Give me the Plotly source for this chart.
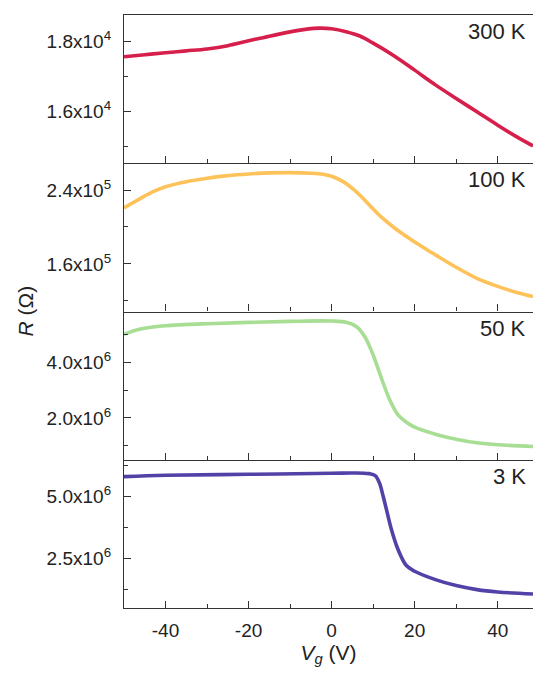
import plotly.graph_objects as go
from plotly.subplots import make_subplots

# ---- data ----
vg_300 = [-50, -45, -40, -35, -30, -25, -20, -15, -10, -6, -3, 0, 3.5, 6.8, 10, 15, 20, 25, 30, 35, 40, 44.6, 48.5]
r_300 = [17552, 17610, 17667, 17720, 17775, 17867, 18005, 18140, 18262, 18340, 18368, 18350, 18267, 18143,
         17940, 17581, 17171, 16750, 16362, 15981, 15600, 15267, 15010]

vg_100 = [-50, -46.3, -43, -40, -35, -30, -25, -20, -15, -10, -5, -2.1, 0, 2.8, 5.2, 7.6, 10, 12.4, 15, 20,
          25, 30, 35, 40, 44.6, 48.5]
r_100 = [220727, 230182, 238182, 243636, 249091, 252727, 255636, 257455, 258545, 258909, 258182,
         257091, 254909, 249091, 241091, 230909, 219500, 209000, 199500, 183636, 169818, 156364, 144364,
         135636, 129091, 124727]

vg_50 = [-50, -46.3, -43, -40, -30, -20, -10, 0, 3.5, 6, 8, 10, 12, 14, 16, 18, 20, 25, 30, 35, 40, 48.5]
r_50 = [5.004e6, 5.183e6, 5.266e6, 5.314e6, 5.386e6, 5.434e6, 5.470e6, 5.481e6, 5.434e6, 5.278e6,
        4.920e6, 4.263e6, 3.427e6, 2.650e6, 2.112e6, 1.849e6, 1.670e6, 1.419e6, 1.240e6, 1.109e6,
        1.037e6, 0.977e6]

vg_3 = [-50, -40, -20, 0, 5.2, 9, 10.5, 11.5, 12.4, 13.2, 14.4, 16, 18, 20, 25, 30, 35, 40, 48.5]
r_3 = [5.809e6, 5.863e6, 5.903e6, 5.944e6, 5.957e6, 5.930e6, 5.850e6, 5.560e6, 5.027e6, 4.488e6, 3.679e6,
       2.870e6, 2.222e6, 1.993e6, 1.656e6, 1.413e6, 1.251e6, 1.157e6, 1.076e6]

panel_labels = ["300 K", "100 K", "50 K", "3 K"]
colors = ["#D71F4C", "#FDC35A", "#A8DE93", "#5441A8"]

x_ticks = [-40, -20, 0, 20, 40]
x_tick_text = ["-40", "-20", "0", "20", "40"]
x_minor = [-30, -10, 10, 30]

y_ranges = [[14514, 18743], [108478, 269022], [0.5e6, 5.824e6], [0.51e6, 6.49e6]]
y_major = [[16000, 18000], [160000, 240000], [2e6, 4e6], [2.5e6, 5e6]]
y_major_text = [["1.6x10<sup>4</sup>", "1.8x10<sup>4</sup>"],
                ["1.6x10<sup>5</sup>", "2.4x10<sup>5</sup>"],
                ["2.0x10<sup>6</sup>", "4.0x10<sup>6</sup>"],
                ["2.5x10<sup>6</sup>", "5.0x10<sup>6</sup>"]]
y_minor = [[15000, 17000], [120000, 200000], [1e6, 3e6, 5e6], [1.25e6, 3.75e6, 6.25e6]]

series = [(vg_300, r_300), (vg_100, r_100), (vg_50, r_50), (vg_3, r_3)]

FONT = "Liberation Sans, Arial, sans-serif"
AX = "#333333"

fig = make_subplots(rows=4, cols=1, shared_xaxes=True, vertical_spacing=0)

for i, (xv, yv) in enumerate(series):
    fig.add_trace(go.Scatter(x=xv, y=yv, mode="lines",
                             line=dict(color=colors[i], width=3.6, shape="spline", smoothing=1.0),
                             showlegend=False, hoverinfo="skip"), row=i + 1, col=1)
    fig.update_yaxes(range=y_ranges[i], tickmode="array", tickvals=y_major[i], ticktext=y_major_text[i],
                     ticks="inside", ticklen=7, tickwidth=1.3, tickcolor=AX,
                     minor=dict(tickvals=y_minor[i], ticks="inside", ticklen=4, tickwidth=1.3, tickcolor=AX),
                     showline=True, linecolor=AX, linewidth=1.3, showgrid=False, zeroline=False,
                     tickfont=dict(family=FONT, size=19, color="#222"), ticklabelstandoff=8,
                     row=i + 1, col=1)
    fig.update_xaxes(range=[-50, 48.5], tickmode="array", tickvals=x_ticks, ticktext=x_tick_text,
                     ticks="inside", ticklen=7, tickwidth=1.3, tickcolor=AX,
                     minor=dict(tickvals=x_minor, ticks="inside", ticklen=4, tickwidth=1.3, tickcolor=AX),
                     showline=True, linecolor=AX, linewidth=1.3, showgrid=False, zeroline=False,
                     showticklabels=(i == 3), tickfont=dict(family=FONT, size=19, color="#222"),
                     ticklabelstandoff=5, mirror=(i == 0), row=i + 1, col=1)
    fig.add_annotation(text=panel_labels[i], xref="x domain", yref="y domain" if i == 0 else f"y{i+1} domain",
                       x=1, y=1, xanchor="right", yanchor="top", xshift=-5, yshift=-2, showarrow=False,
                       font=dict(family=FONT, size=22, color="#222"),
                       row=i + 1, col=1)

fig.update_xaxes(title=dict(text="<i>V</i><sub><i>g</i></sub> (V)", font=dict(family=FONT, size=21, color="#222"),
                            standoff=0),
                 row=4, col=1)

fig.add_annotation(text="<i>R</i> (Ω)", xref="paper", yref="paper", x=0, y=0.5, xshift=-99,
                   xanchor="center", yanchor="middle", textangle=-90, showarrow=False,
                   font=dict(family=FONT, size=21, color="#222"))

fig.update_layout(width=533, height=673, margin=dict(l=124, r=0, t=15, b=65, autoexpand=False),
                  paper_bgcolor="white", plot_bgcolor="white")

fig.write_html("out.html", config={"displayModeBar": False},
               post_script="document.body.style.margin='0';document.body.style.overflow='hidden';")
